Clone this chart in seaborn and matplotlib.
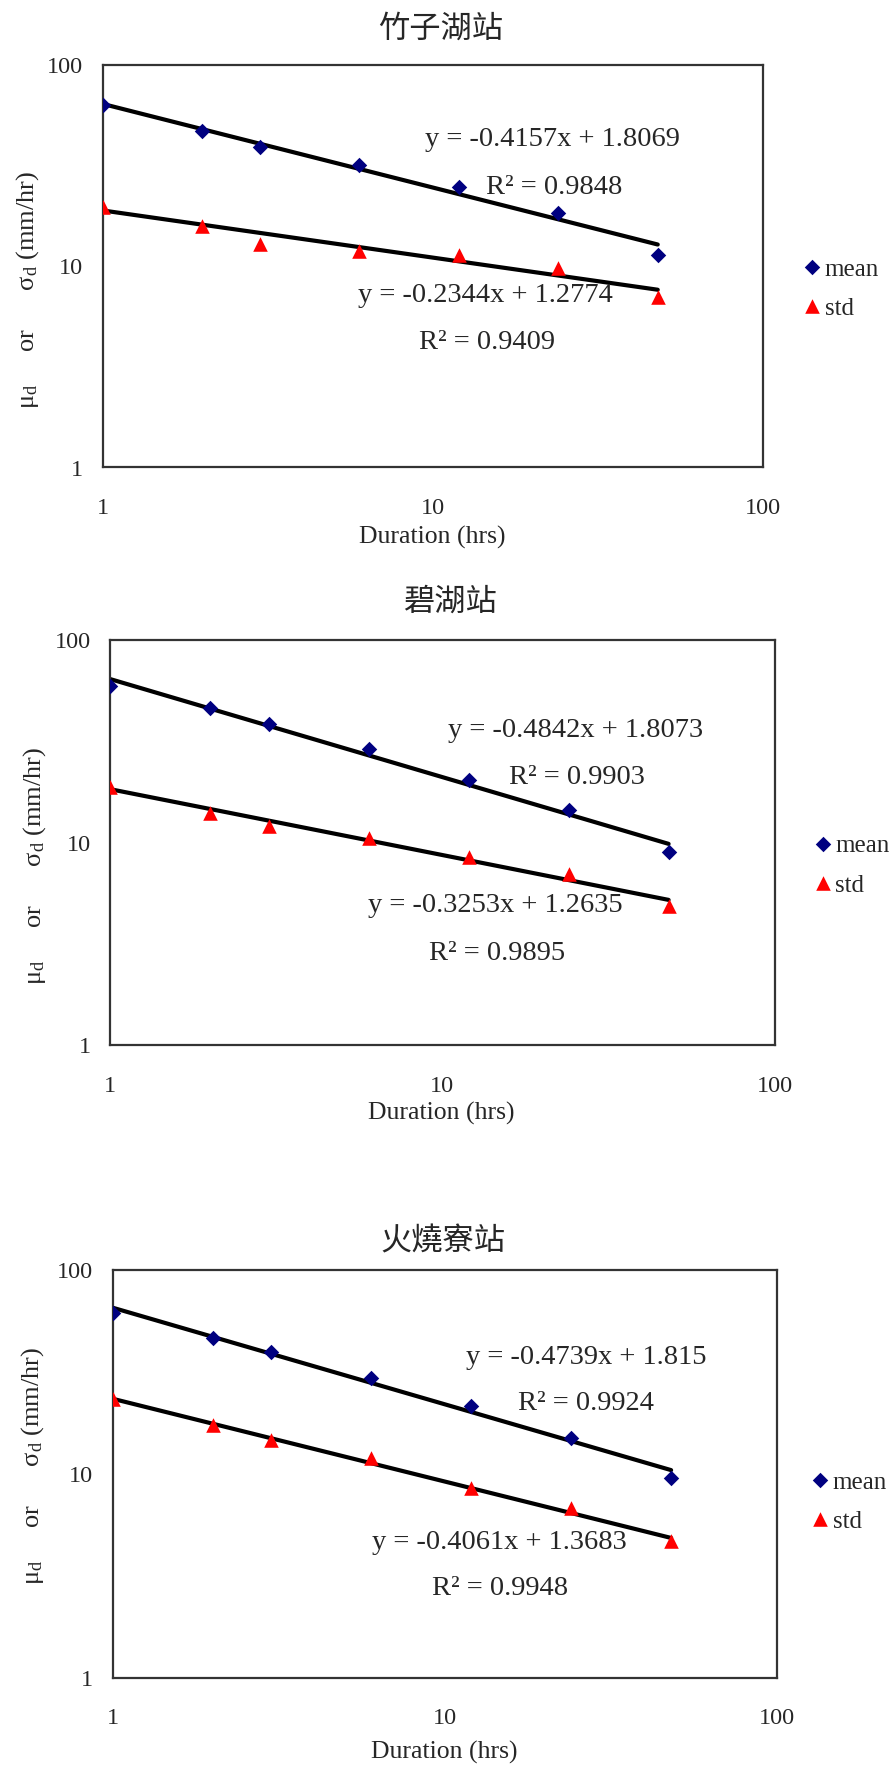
import numpy as np
import pandas as pd
import matplotlib
matplotlib.use("Agg")
import matplotlib.pyplot as plt
from matplotlib.ticker import NullLocator
import seaborn as sns

# durations (hrs) and the station data
durations = [1, 2, 3, 6, 12, 24, 48]
stations = ["竹子湖站", "碧湖站", "火燒寮站"]

mean_zhuzihu = [63.2, 47.0, 39.2, 31.9, 24.9, 18.4, 11.4]
std_zhuzihu = [19.8, 15.8, 12.9, 11.9, 11.4, 9.8, 7.0]
mean_bihu = [59.3, 46.0, 38.4, 28.8, 20.4, 14.5, 8.95]
std_bihu = [18.9, 14.0, 12.1, 10.5, 8.5, 7.0, 4.86]
mean_huoshaoliao = [61.4, 46.6, 39.5, 29.4, 21.6, 15.0, 9.5]
std_huoshaoliao = [23.3, 17.4, 14.6, 11.9, 8.5, 6.8, 4.7]

# trendline coefficients (log10 y = a log10 x + b)
slope_mean = [-0.4157, -0.4842, -0.4739]
icpt_mean = [1.8069, 1.8073, 1.815]
r2_mean = [0.9848, 0.9903, 0.9924]
slope_std = [-0.2344, -0.3253, -0.4061]
icpt_std = [1.2774, 1.2635, 1.3683]
r2_std = [0.9409, 0.9895, 0.9948]

means = [mean_zhuzihu, mean_bihu, mean_huoshaoliao]
stds = [std_zhuzihu, std_bihu, std_huoshaoliao]

sns.set_style("white")
plt.rcParams["font.family"] = ["Liberation Serif", "DejaVu Serif"]
plt.rcParams["mathtext.fontset"] = "custom"
plt.rcParams["mathtext.rm"] = "Liberation Serif"
plt.rcParams["mathtext.it"] = "Liberation Serif:italic"

W, H = 893, 1767
fig = plt.figure(figsize=(W / 100, H / 100), dpi=100)


def frac(x, y):
    return x / W, 1 - y / H


# layout in pixels (left, top, right, bottom)
boxes = [(102.5, 65, 763, 467.5), (110, 640, 774.5, 1045), (112.7, 1270, 777, 1677.7)]
title_xy = [(441, 29), (450, 602), (443, 1241)]
eq_mean_xy = [(552, 140), (576, 730), (586, 1357)]
r2_mean_xy = [(554, 188), (577, 777), (586, 1403)]
eq_std_xy = [(485, 296), (495, 906), (499, 1542)]
r2_std_xy = [(487, 342), (497, 953), (500, 1588)]
legend_xy = [(802, 289), (813, 866), (810, 1502)]
xlabel_xy = [(432, 537), (441, 1113), (444, 1752)]
ylabel_xy = [(28, 290), (35, 866), (33, 1466)]

navy = "#000080"
red = "#FF0000"
spine_c = "#333333"

for i in range(3):
    l, t, r, b = boxes[i]
    ax = fig.add_axes([l / W, 1 - b / H, (r - l) / W, (b - t) / H])

    df = pd.DataFrame({"dur": durations, "mean": means[i], "std": stds[i]})

    # trendlines from the fitted equations
    xfit = np.array([durations[0], durations[-1]], dtype=float)
    ym = 10 ** (icpt_mean[i] + slope_mean[i] * np.log10(xfit))
    ys = 10 ** (icpt_std[i] + slope_std[i] * np.log10(xfit))
    sns.lineplot(x=xfit, y=ym, color="black", lw=3.0, ax=ax, estimator=None, zorder=2)
    sns.lineplot(x=xfit, y=ys, color="black", lw=3.0, ax=ax, estimator=None, zorder=2)

    sns.scatterplot(data=df, x="dur", y="mean", marker="D", s=62, color=navy,
                    linewidth=0, ax=ax, label="mean", zorder=3)
    sns.scatterplot(data=df, x="dur", y="std", marker="^", s=110, color=red,
                    linewidth=0, ax=ax, label="std", zorder=3)

    ax.set_xscale("log")
    ax.set_yscale("log")
    ax.set_xlim(1, 100)
    ax.set_ylim(1, 100)
    ax.set_xticks([1, 10, 100])
    ax.set_xticklabels(["1", "10", "100"])
    ax.set_xticks([10 ** 0.5, 10 ** 1.5], minor=True)
    ax.set_yticks([1, 10, 100])
    ax.set_yticklabels(["1", "10", "100"])
    ax.yaxis.set_minor_locator(NullLocator())
    ax.tick_params(axis="both", which="both", direction="in", length=5, width=1.3,
                   color=spine_c, labelsize=17.5, top=False, right=False)
    ax.tick_params(axis="x", which="both", pad=22)
    ax.tick_params(axis="y", which="both", pad=14)
    for sp in ax.spines.values():
        sp.set_color(spine_c)
        sp.set_linewidth(1.6)
        sp.set_visible(True)

    ax.set_xlabel("Duration (hrs)", fontsize=18.5, va="center")
    ax.xaxis.set_label_coords((xlabel_xy[i][0] - l) / (r - l), (b - xlabel_xy[i][1]) / (b - t))
    ax.set_ylabel(r"$\mathrm{\mu_d}$     or      $\mathrm{\sigma_d}$ (mm/hr)", fontsize=19, va="center")
    ax.yaxis.set_label_coords((ylabel_xy[i][0] - l) / (r - l), (b - ylabel_xy[i][1]) / (b - t))

    fig.text(*frac(*title_xy[i]), stations[i], ha="center", va="center", fontsize=22.5,
             family=["Noto Sans CJK TC", "DejaVu Sans"])

    fig.text(*frac(*eq_mean_xy[i]), f"y = {slope_mean[i]}x + {icpt_mean[i]}",
             ha="center", va="center", fontsize=20.5)
    fig.text(*frac(*r2_mean_xy[i]), f"R² = {r2_mean[i]}", ha="center", va="center", fontsize=20.5)
    fig.text(*frac(*eq_std_xy[i]), f"y = {slope_std[i]}x + {icpt_std[i]}",
             ha="center", va="center", fontsize=20.5)
    fig.text(*frac(*r2_std_xy[i]), f"R² = {r2_std[i]}", ha="center", va="center", fontsize=20.5)

    ax.legend(loc="center left", bbox_to_anchor=frac(*legend_xy[i]), bbox_transform=fig.transFigure,
              frameon=False, fontsize=18, borderpad=0, borderaxespad=0, handlelength=0.8,
              handletextpad=0.1, labelspacing=0.68, scatteryoffsets=[0.5])

fig.savefig("out.png", dpi=100, facecolor="white")
